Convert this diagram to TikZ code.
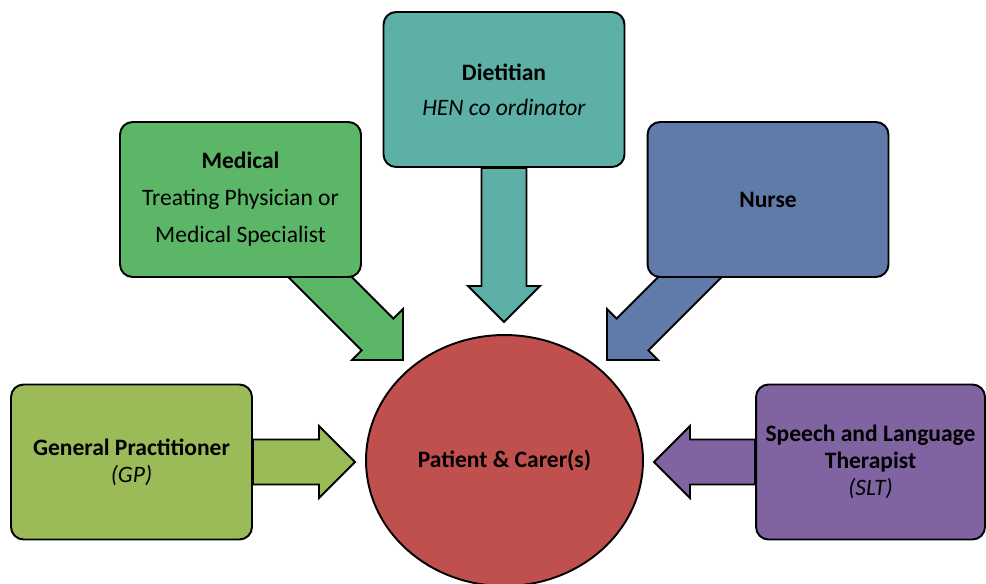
\documentclass[tikz,border=0pt]{standalone}
\usepackage{fontspec}
\setmainfont{Carlito}
\usetikzlibrary{calc, backgrounds, shapes.geometric}
\definecolor{gpGreen}{RGB}{155, 187, 89}
\definecolor{medGreen}{RGB}{92, 182, 103}
\definecolor{dietTeal}{RGB}{92, 176, 166}
\definecolor{nurseBlue}{RGB}{96, 122, 170}
\definecolor{sltPurple}{RGB}{128, 100, 162}
\definecolor{patRed}{RGB}{192, 80, 77}
% block arrow: colour, foot, tip
\newcommand{\fatarrow}[3]{%
  \coordinate (neck) at ($(#3)!0.72cm!(#2)$);
  \draw[fat, fill=#1] ($(#2)!0.45cm!90:(#3)$) -- ($(neck)!0.45cm!90:(#3)$) -- ($(neck)!0.72cm!90:(#3)$) -- (#3)
    -- ($(neck)!0.72cm!-90:(#3)$) -- ($(neck)!0.45cm!-90:(#3)$) -- ($(#2)!0.45cm!-90:(#3)$) -- cycle;}

\begin{document}
\begin{tikzpicture}[x=0.02cm, y=-0.02cm, font=\fontsize{13.4}{15.3}\selectfont,
        box/.style={rectangle, rounded corners=0.25cm, draw=black, line width=1.1pt,
                    minimum width=4.82cm, minimum height=3.1cm, align=center, inner sep=2pt},
        fat/.style={draw=black, line width=1.1pt, line join=miter}]
        \useasboundingbox (0,0) rectangle (986,584);
        \node[box, fill=dietTeal] (diet) at (504,89.5) {\textbf{Dietitian}\\[4.5pt]\textit{HEN co ordinator}};
        \node[box, fill=medGreen] (med) at (240.5,199.5) {\textbf{Medical}\\[5.7pt]Treating Physician or\\[5.7pt]Medical Specialist};
        \node[box, fill=nurseBlue] (nurse) at (768,199.5) {\textbf{Nurse}};
        \node[box, fill=gpGreen] (gp) at (131.5,462) {\textbf{General Practitioner}\\\textit{(GP)}};
        \node[box, fill=sltPurple, minimum width=4.58cm] (slt) at (870.5,462) {\textbf{Speech and Language}\\\textbf{Therapist}\\\textit{(SLT)}};
        \node[ellipse, draw=black, line width=1.1pt, fill=patRed, minimum width=5.54cm, minimum height=5.02cm,
              inner sep=0pt] (pat) at (504.5,460.5) {\textbf{Patient \& Carer(s)}};
        \coordinate (medFoot) at (300,257);
        \coordinate (medTip) at (403,360);
        \coordinate (nurseFoot) at (710,257);
        \coordinate (nurseTip) at (607,360);
        \coordinate (dietTip) at (504,322);
        \coordinate (gpTip) at (355,462);
        \coordinate (sltTip) at (654,462);
        \begin{scope}[on background layer]
            \fatarrow{medGreen}{medFoot}{medTip}
            \fatarrow{nurseBlue}{nurseFoot}{nurseTip}
            \fatarrow{dietTeal}{diet.south}{dietTip}
            \fatarrow{gpGreen}{gp.east}{gpTip}
            \fatarrow{sltPurple}{slt.west}{sltTip}
        \end{scope}
    \end{tikzpicture}
\end{document}
